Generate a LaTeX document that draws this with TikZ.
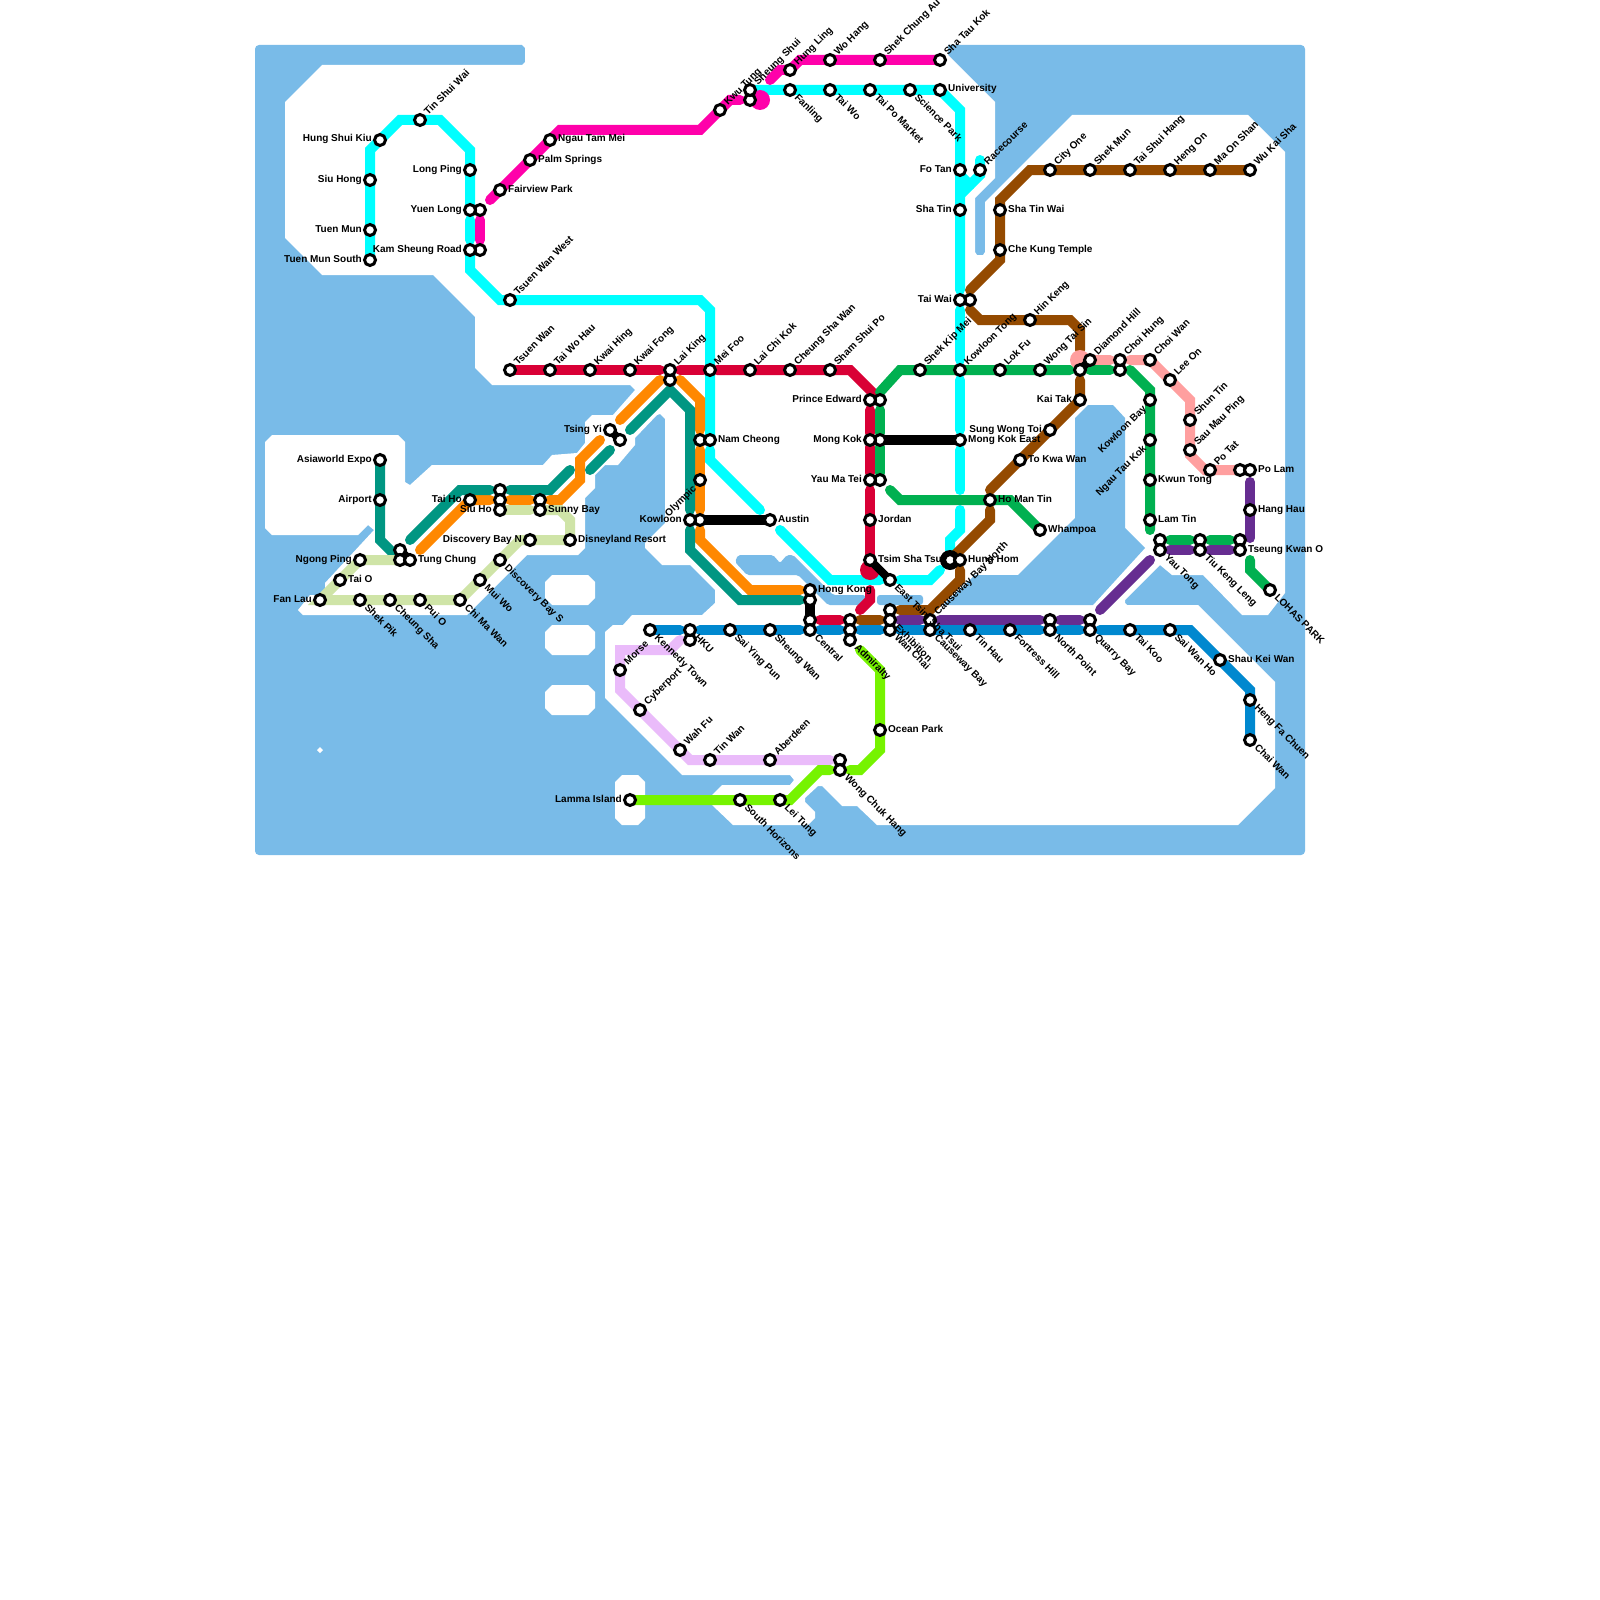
\documentclass[tikz,border=0pt]{standalone}
\usepackage{fontspec}
\setmainfont{Liberation Sans}
\usepackage{tikz}
\usetikzlibrary{backgrounds}
\definecolor{seaBlue}{HTML}{79BBE8}
\definecolor{lnCyan}{HTML}{00FFFF}
\definecolor{lnMagenta}{HTML}{FF00AA}
\definecolor{lnCrimson}{HTML}{D90036}
\definecolor{lnOrange}{HTML}{FF8800}
\definecolor{lnTeal}{HTML}{009682}
\definecolor{lnPale}{HTML}{CFE4A7}
\definecolor{lnGreen}{HTML}{00B050}
\definecolor{lnBrown}{HTML}{944A00}
\definecolor{lnPink}{HTML}{FF9F9F}
\definecolor{lnPurple}{HTML}{662D91}
\definecolor{lnBlue}{HTML}{0088CF}
\definecolor{lnLilac}{HTML}{EABBFA}
\definecolor{lnLime}{HTML}{76F300}
\tikzset{
  ln/.style={line width=10pt, line cap=round, line join=miter},
  cyanl/.style={ln, draw=lnCyan},
  magl/.style={ln, draw=lnMagenta},
  criml/.style={ln, draw=lnCrimson},
  orgl/.style={ln, draw=lnOrange},
  teall/.style={ln, draw=lnTeal},
  palel/.style={ln, draw=lnPale},
  grnl/.style={ln, draw=lnGreen},
  brnl/.style={ln, draw=lnBrown},
  pnkl/.style={ln, draw=lnPink},
  purl/.style={ln, draw=lnPurple},
  blul/.style={ln, draw=lnBlue},
  lill/.style={ln, draw=lnLilac},
  liml/.style={ln, draw=lnLime},
  blob/.style={circle, minimum size=20pt, inner sep=0pt},
  stn/.style={circle, draw=black, fill=white, line width=3pt, minimum size=11pt, inner sep=0pt},
  lab/.style={font=\fontsize{10}{12}\selectfont\bfseries, inner sep=0pt},
  lbE/.style={lab, anchor=base west, xshift=8pt, yshift=-2pt},
  lbW/.style={lab, anchor=base east, xshift=-8pt, yshift=-2pt},
  lbNE/.style={lab, anchor=base west, xshift=8pt, yshift=4pt, rotate=45},
  lbSW/.style={lab, anchor=base east, xshift=-3pt, yshift=-9pt, rotate=45},
  lbSE/.style={lab, anchor=base west, xshift=4pt, yshift=-8pt, rotate=-45},
  link/.style={line width=8pt},
  bar/.style={line width=10pt},
}
\begin{document}
\begin{tikzpicture}[x=1pt, y=-1pt]
\useasboundingbox (0,0) rectangle (1600,1600);
\foreach \nm/\x/\y in {YuenLongB/480/210, KamSheungB/480/250, SheungShuiB/750/100, LaiKingB/670/380, PrinceEdwardB/880/400, MongKokB/880/440, YauMaTeiB/880/480, TaiWaiB/970/300, DiamondHillB/1080/370, ChoiHungB/1120/370, NamCheongB/700/440, KowloonB/700/520, HongKongB/810/600, CentralB/810/620, AdmiraltyA/850/620, AdmiraltyB/850/630, ExhibitionA/890/610, NorthPointB/1050/620, QuarryBayB/1090/620, YauTongB/1160/540, TiuKengB/1200/540, TseungKwanB/1240/540, PoLamB/1240/470, WongChukB/840/760, HKUB/690/640, TsingYiB/620/440, TungChungA/400/550, TungChungB/400/560, SiuHoA/500/490, SiuHoB/500/500, SunnyBayB/540/500, HungHomB/950/560}
  \node[stn] (\nm) at (\x,\y) {};
\foreach \nm/\x/\y/\txt in {FairviewPark/500/190/Fairview Park, PalmSprings/530/160/Palm Springs, NgauTamMei/550/140/Ngau Tam Mei, University/940/90/University, ShaTinWai/1000/210/Sha Tin Wai, CheKung/1000/250/Che Kung Temple, NamCheong/710/440/Nam Cheong, Austin/770/520/Austin, TungChung/410/560/Tung Chung, TaiO/340/580/Tai O, SunnyBay/540/510/Sunny Bay, Disneyland/570/540/Disneyland Resort, HongKong/810/590/Hong Kong, Jordan/870/520/Jordan, TsimShaTsui/870/560/Tsim Sha Tsui, HungHom/960/560/Hung Hom, HoManTin/990/500/Ho Man Tin, Whampoa/1040/530/Whampoa, ToKwaWan/1020/460/To Kwa Wan, LamTin/1150/520/Lam Tin, KwunTong/1150/480/Kwun Tong, HangHau/1250/510/Hang Hau, PoLam/1250/470/Po Lam, TseungKwanO/1240/550/Tseung Kwan O, ShauKeiWan/1220/660/Shau Kei Wan, OceanPark/880/730/Ocean Park, MongKokE/960/440/Mong Kok East}{
  \node[stn] (\nm) at (\x,\y) {};
  \node[lbE] (\nm-t) at (\x,\y) {\txt};
}
\foreach \nm/\x/\y/\txt in {TuenMunS/370/260/Tuen Mun South, TuenMun/370/230/Tuen Mun, SiuHong/370/180/Siu Hong, HungShuiKiu/380/140/Hung Shui Kiu, LongPing/470/170/Long Ping, YuenLong/470/210/Yuen Long, KamSheung/470/250/Kam Sheung Road, Asiaworld/380/460/Asiaworld Expo, Airport/380/500/Airport, NgongPing/360/560/Ngong Ping, FanLau/320/600/Fan Lau, TaiHo/470/500/Tai Ho, SiuHo/500/510/Siu Ho, DiscoveryN/530/540/Discovery Bay N, TsingYi/610/430/Tsing Yi, Kowloon/690/520/Kowloon, PrinceEdward/870/400/Prince Edward, MongKok/870/440/Mong Kok, YauMaTei/870/480/Yau Ma Tei, FoTan/960/170/Fo Tan, ShaTin/960/210/Sha Tin, TaiWai/960/300/Tai Wai, KaiTak/1080/400/Kai Tak, SungWongToi/1050/430/Sung Wong Toi, Lamma/630/800/Lamma Island}{
  \node[stn] (\nm) at (\x,\y) {};
  \node[lbW] (\nm-t) at (\x,\y) {\txt};
}
\foreach \nm/\x/\y/\txt in {TinShuiWai/420/120/Tin Shui Wai, TsuenWanW/510/300/Tsuen Wan West, TsuenWan/510/370/Tsuen Wan, TaiWoHau/550/370/Tai Wo Hau, KwaiHing/590/370/Kwai Hing, KwaiFong/630/370/Kwai Fong, LaiKing/670/370/Lai King, MeiFoo/710/370/Mei Foo, LaiChiKok/750/370/Lai Chi Kok, CheungShaWan/790/370/Cheung Sha Wan, ShamShuiPo/830/370/Sham Shui Po, ShekKipMei/920/370/Shek Kip Mei, KowloonTong/960/370/Kowloon Tong, LokFu/1000/370/Lok Fu, WongTaiSin/1040/370/Wong Tai Sin, DiamondHill/1090/360/Diamond Hill, ChoiHung/1120/360/Choi Hung, ChoiWan/1150/360/Choi Wan, LeeOn/1170/380/Lee On, ShunTin/1190/420/Shun Tin, SauMauPing/1190/450/Sau Mau Ping, PoTat/1210/470/Po Tat, HinKeng/1030/320/Hin Keng, Racecourse/980/170/Racecourse, CityOne/1050/170/City One, ShekMun/1090/170/Shek Mun, TaiShuiHang/1130/170/Tai Shui Hang, HengOn/1170/170/Heng On, MaOnShan/1210/170/Ma On Shan, WuKaiSha/1250/170/Wu Kai Sha, KwuTung/720/110/Kwu Tung, SheungShui/750/90/Sheung Shui, HungLing/790/70/Hung Ling, WoHang/830/60/Wo Hang, ShekChungAu/880/60/Shek Chung Au, ShaTauKok/940/60/Sha Tau Kok, Morse/620/670/Morse, Cyberport/640/710/Cyberport, WahFu/680/750/Wah Fu, TinWan/710/760/Tin Wan, Aberdeen/770/760/Aberdeen, CausewayN/930/620/Causeway Bay North}{
  \node[stn] (\nm) at (\x,\y) {};
  \node[lbNE] (\nm-t) at (\x,\y) {\txt};
}
\foreach \nm/\x/\y/\txt in {Olympic/700/480/Olympic, KowloonBay/1150/400/Kowloon Bay, NgauTauKok/1150/440/Ngau Tau Kok}{
  \node[stn] (\nm) at (\x,\y) {};
  \node[lbSW] (\nm-t) at (\x,\y) {\txt};
}
\foreach \nm/\x/\y/\txt in {Fanling/790/90/Fanling, TaiWo/830/90/Tai Wo, TaiPoMarket/870/90/Tai Po Market, SciencePark/910/90/Science Park, ShekPik/360/600/Shek Pik, CheungSha/390/600/Cheung Sha, PuiO/420/600/Pui O, ChiMaWan/460/600/Chi Ma Wan, MuiWo/480/580/Mui Wo, DiscoveryS/500/560/Discovery Bay S, KennedyTown/650/630/Kennedy Town, HKU/690/630/HKU, SaiYingPun/730/630/Sai Ying Pun, SheungWan/770/630/Sheung Wan, Central/810/630/Central, Admiralty/850/640/Admiralty, WanChai/890/630/Wan Chai, Exhibition/890/620/Exhibition, EastTST/890/580/East Tsim Sha Tsui, Causeway/930/630/Causeway Bay, TinHau/970/630/Tin Hau, FortressHill/1010/630/Fortress Hill, NorthPoint/1050/630/North Point, QuarryBay/1090/630/Quarry Bay, TaiKoo/1130/630/Tai Koo, SaiWanHo/1170/630/Sai Wan Ho, HengFa/1250/700/Heng Fa Chuen, ChaiWan/1250/740/Chai Wan, WongChukHang/840/770/Wong Chuk Hang, LeiTung/780/800/Lei Tung, SouthHorizons/740/800/South Horizons, YauTong/1160/550/Yau Tong, TiuKengLeng/1200/550/Tiu Keng Leng, Lohas/1270/590/LOHAS PARK}{
  \node[stn] (\nm) at (\x,\y) {};
  \node[lbSE] (\nm-t) at (\x,\y) {\txt};
}
\begin{scope}[on background layer]
  \fill[seaBlue, rounded corners=4pt] (255,45) rectangle (1305,855);
  \fill[white] (322,65) -- (522,65) -- (525,62) -- (525,48) -- (522,45) -- (522,40) -- (948,40) -- (948,55) -- (995,102) -- (995,178) -- (975,198) -- (975,252) -- (977,255) -- (983,255) -- (985,252) -- (985,202) -- (1072,115) -- (1248,115) -- (1285,152) -- (1285,593) -- (1268,615) -- (1242,615) -- (1203,575) -- (1172,575) -- (1160,565) -- (1125,600) -- (1125,603) -- (1127,605) -- (1198,605) -- (1275,682) -- (1275,788) -- (1238,825) -- (877,825) -- (857,806) -- (842,806) -- (822,786) -- (818,786) -- (805,798) -- (805,802) -- (815,812) -- (815,818) -- (808,825) -- (733,825) -- (712,805) -- (712,795) -- (722,785) -- (790,785) -- (794,780) -- (790,775) -- (682,775) -- (605,698) -- (605,632) -- (613,625) -- (623,625) -- (632,615) -- (702,615) -- (715,603) -- (715,590) -- (690,565) -- (662,565) -- (645,548) -- (645,543) -- (665,523) -- (665,419) -- (660,414) -- (657,415) -- (635,438) -- (635,445) -- (618,465) -- (605,465) -- (595,475) -- (595,488) -- (585,498) -- (585,548) -- (578,555) -- (527,555) -- (467,615) -- (303,615) -- (298,610) -- (310,595) -- (325,595) -- (325,583) -- (374,530) -- (368,525) -- (358,535) -- (272,535) -- (265,528) -- (265,442) -- (272,435) -- (398,435) -- (405,442) -- (405,482) -- (410,485) -- (432,465) -- (543,465) -- (552,455) -- (577,453) -- (585,443) -- (585,422) -- (592,415) -- (613,415) -- (635,390) -- (630,385) -- (492,385) -- (475,368) -- (475,317) -- (433,275) -- (322,275) -- (285,238) -- (285,102) -- cycle;
  \fill[seaBlue] (1075,418) -- (1088,405) -- (1113,405) -- (1125,418) -- (1125,528) -- (1145,548) -- (1093,605) -- (943,605) -- (975,575) -- (1018,575) -- (1075,518) -- cycle;
  \fill[seaBlue, rounded corners=2pt] (735,562) -- (738,555) -- (773,555) -- (780,563) -- (787,555) -- (793,555) -- (833,595) -- (865,595) -- (865,605) -- (828,605) -- (798,575) -- (747,575) -- cycle;
  \fill[seaBlue, rounded corners=3pt] (877,595) rectangle (923,605);
  \foreach \yo in {575,625,685}
    \fill[white] (552,\yo) -- (588,\yo) -- (595,\yo+7) -- (595,\yo+23) -- (588,\yo+30) -- (552,\yo+30) -- (545,\yo+23) -- (545,\yo+7) -- cycle;
  \fill[white] (622,775) -- (638,775) -- (645,782) -- (645,818) -- (638,825) -- (622,825) -- (615,818) -- (615,782) -- cycle;
  \fill[white] (320,747) -- (323,750) -- (320,753) -- (317,750) -- cycle;
  \draw[cyanl] (TuenMunS.center) -- (370,150) -- (400,120) -- (440,120) -- (470,150) -- (YuenLong.center);
  \draw[cyanl] (470,220) -- (470,240);
  \draw[cyanl] (KamSheung.center) -- (470,270) -- (500,300) -- (700,300) -- (710,310) -- (NamCheong.center);
  \draw[cyanl] (710,450) -- (710,460) -- (760,510);
  \draw[cyanl] (780,530) -- (830,580) -- (880,580);
  \draw[cyanl] (900,580) -- (930,580) -- (940,570);
  \draw[cyanl] (950,550) -- (950,540) -- (960,530) -- (960,510);
  \draw[cyanl] (960,490) -- (960,450);
  \draw[cyanl] (960,430) -- (960,380);
  \draw[cyanl] (960,360) -- (960,310);
  \draw[cyanl] (960,290) -- (960,110) -- (940,90) -- (SheungShui.center);
  \draw[cyanl] (980,160) -- (980,175) -- (960,195);
  \draw[cyanl] (FoTan.center) -- (960,175) -- (970,185);
  \draw[magl] (480,220) -- (480,240);
  \draw[magl] (490,200) -- (560,130) -- (700,130) -- (730,100) -- (740,100);
  \draw[magl] (770,80) -- (780,70) -- (790,70) -- (800,60) -- (ShaTauKok.center);
  \node[blob, fill=lnMagenta] (SheungBlob) at (760,100) {};
  \draw[criml] (TsuenWan.center) -- (660,370);
  \draw[criml] (680,370) -- (703,370);
  \draw[criml] (717,370) -- (850,370) -- (873,393);
  \draw[criml] (870,410) -- (870,433);
  \draw[criml] (870,447) -- (870,473);
  \draw[criml] (870,490) -- (TsimShaTsui.center);
  \node[blob, fill=lnCrimson] (TsimBlob) at (870,570) {};
  \draw[criml] (870,590) -- (870,600) -- (860,610);
  \draw[criml] (820,620) -- (840,620);
  \draw[orgl] (420,550) -- (470,500) -- (490,500);
  \draw[orgl] (510,500) -- (530,500);
  \draw[orgl] (550,500) -- (560,500) -- (580,480) -- (580,460) -- (600,440);
  \draw[orgl] (620,420) -- (660,380);
  \draw[orgl] (680,380) -- (700,400) -- (700,430);
  \draw[orgl] (700,450) -- (700,510);
  \draw[orgl] (700,530) -- (700,540) -- (750,590) -- (800,590);
  \draw[teall] (Asiaworld.center) -- (380,540) -- (393,553);
  \draw[teall] (410,540) -- (460,490) -- (490,490);
  \draw[teall] (510,490) -- (550,490) -- (570,470);
  \draw[teall] (590,470) -- (610,450);
  \draw[teall] (630,430) -- (670,390) -- (690,410) -- (690,510);
  \draw[teall] (690,530) -- (690,550) -- (740,600) -- (800,600);
  \draw[palel] (TungChungB.center) -- (360,560) -- (FanLau.center) -- (460,600) -- (520,540) -- (Disneyland.center) -- (570,520) -- (560,510) -- (SunnyBay.center);
  \draw[palel] (SiuHo.center) -- (530,510);
  \draw[grnl] (880,392) -- (900,370) -- (1070,370);
  \draw[grnl] (1090,370) -- (1110,370);
  \draw[grnl] (1130,370) -- (1150,390) -- (1150,530);
  \draw[grnl] (880,410) -- (880,433);
  \draw[grnl] (880,447) -- (880,473);
  \draw[grnl] (890,490) -- (900,500) -- (1010,500) -- (Whampoa.center);
  \draw[grnl] (1170,540) -- (1190,540);
  \draw[grnl] (1210,540) -- (1230,540);
  \draw[grnl] (1250,560) -- (1250,570) -- (Lohas.center);
  \draw[brnl] (WuKaiSha.center) -- (1030,170) -- (1000,200) -- (1000,260) -- (970,290);
  \draw[brnl] (970,310) -- (980,320) -- (1070,320) -- (1080,330) -- (1080,350);
  \draw[brnl] (1080,380) -- (KaiTak.center) -- (990,490);
  \draw[brnl] (990,510) -- (990,520) -- (955,555);
  \draw[brnl] (960,570) -- (960,580) -- (930,610) -- (900,610);
  \draw[brnl] (860,620) -- (880,620);
  \node[blob, fill=lnPink] (DiamondBlob) at (1080,360) {};
  \draw[pnkl] (1095,360) -- (1110,360);
  \draw[pnkl] (1130,360) -- (1150,360) -- (1190,400) -- (1190,455) -- (1205,470) -- (1235,470);
  \draw[purl] (900,620) -- (920,620);
  \draw[purl] (940,620) -- (1040,620);
  \draw[purl] (1060,620) -- (1080,620);
  \draw[purl] (1100,610) -- (1150,560);
  \draw[purl] (1170,550) -- (1190,550);
  \draw[purl] (1210,550) -- (1230,550);
  \draw[purl] (1250,538) -- (1250,482);
  \draw[blul] (KennedyTown.center) -- (680,630);
  \draw[blul] (700,630) -- (800,630);
  \draw[blul] (820,630) -- (840,630);
  \draw[blul] (860,630) -- (880,630);
  \draw[blul] (900,630) -- (1040,630);
  \draw[blul] (1060,630) -- (1080,630);
  \draw[blul] (1100,630) -- (1190,630) -- (1250,690) -- (ChaiWan.center);
  \draw[lill] (680,640) -- (670,650) -- (620,650) -- (620,690) -- (690,760) -- (830,760);
  \draw[liml] (Lamma.center) -- (790,800) -- (820,770) -- (830,770);
  \draw[liml] (850,770) -- (860,770) -- (880,750) -- (880,670) -- (860,650);
  \node[blob, fill=black] (HungHomBlob) at (950,560) {};
  \foreach \a/\b in {YuenLong/YuenLongB, KamSheung/KamSheungB, SheungShui/SheungShuiB, LaiKing/LaiKingB, PrinceEdward/PrinceEdwardB, MongKok/MongKokB, YauMaTei/YauMaTeiB, TaiWai/TaiWaiB, DiamondHillB/DiamondHill, ChoiHung/ChoiHungB, NamCheongB/NamCheong, Kowloon/KowloonB, CentralB/Central, AdmiraltyA/AdmiraltyB, AdmiraltyB/Admiralty, ExhibitionA/Exhibition, Exhibition/WanChai, CausewayN/Causeway, NorthPointB/NorthPoint, QuarryBayB/QuarryBay, YauTongB/YauTong, TiuKengB/TiuKengLeng, TseungKwanB/TseungKwanO, PoLamB/PoLam, WongChukB/WongChukHang, HKU/HKUB, SiuHoA/SiuHoB, SiuHoB/SiuHo, SunnyBayB/SunnyBay, HungHomB/HungHom, TungChungA/TungChungB, TungChungB/TungChung, TungChungA/TungChung, TsimShaTsui/EastTST, TsingYi/TsingYiB}
    \draw[link] (\a.center) -- (\b.center);
  \foreach \a/\b in {HongKong/CentralB, MongKokB/MongKokE, KowloonB/Austin}
    \draw[bar] (\a.center) -- (\b.center);
\end{scope}
\end{tikzpicture}
\end{document}
